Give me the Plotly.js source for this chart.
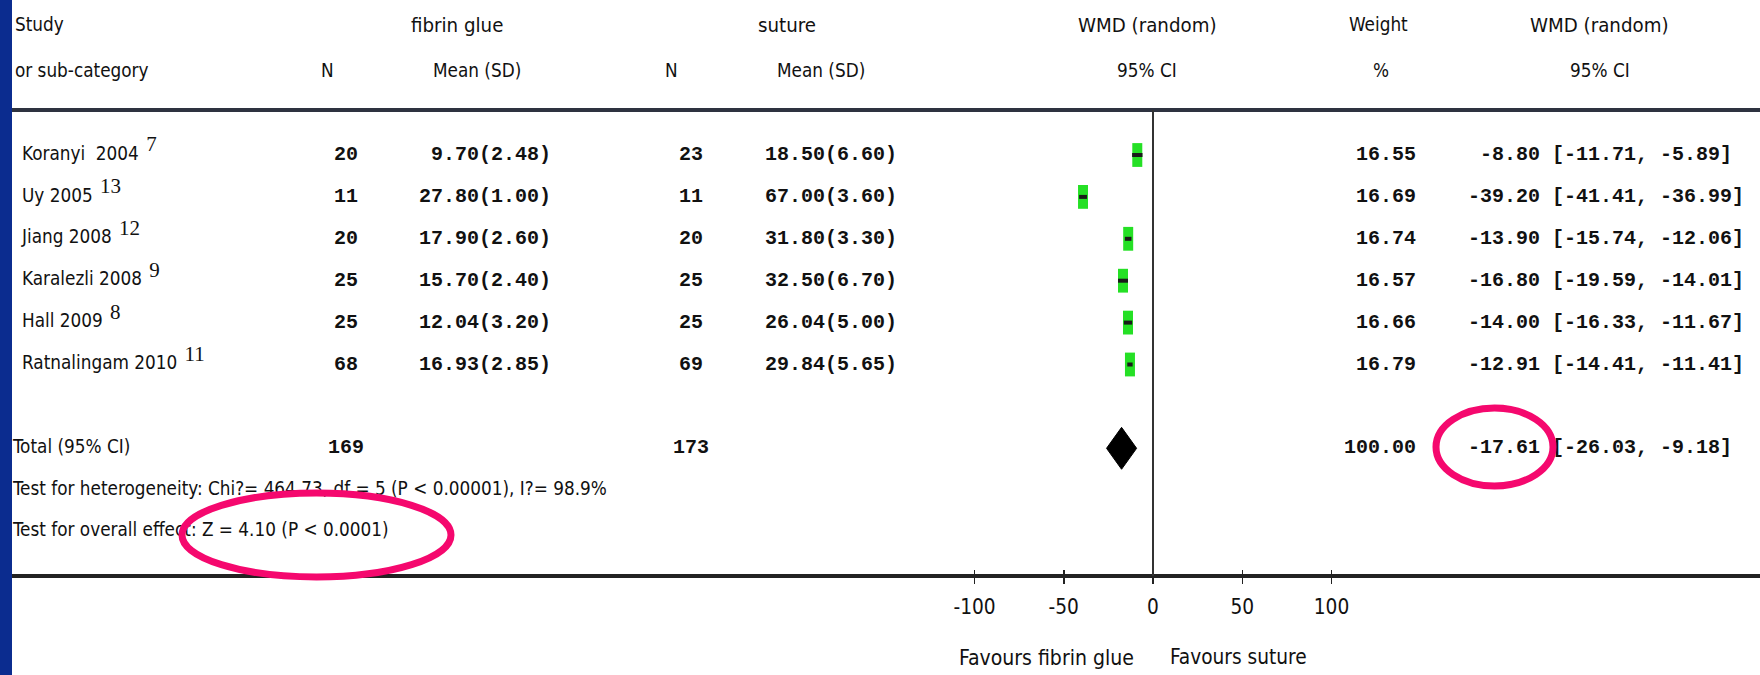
<!DOCTYPE html>
<html>
<head>
<meta charset="utf-8">
<script src="https://cdn.plot.ly/plotly-3.0.1.min.js"></script>
<style>html,body{margin:0;padding:0;background:#fff;}#chart{width:1760px;height:675px;}</style>
</head>
<body>
<div id="chart"></div>
<script>
// ---------------- DATA ----------------
const studies   = ["Koranyi\u00A0\u00A02004", "Uy 2005", "Jiang 2008", "Karalezli 2008", "Hall 2009", "Ratnalingam 2010"];
const refs      = ["7", "13", "12", "9", "8", "11"];
const nGlue     = [20, 11, 20, 25, 25, 68];
const meanGlue  = [9.70, 27.80, 17.90, 15.70, 12.04, 16.93];
const sdGlue    = [2.48, 1.00, 2.60, 2.40, 3.20, 2.85];
const nSuture   = [23, 11, 20, 25, 25, 69];
const meanSuture= [18.50, 67.00, 31.80, 32.50, 26.04, 29.84];
const sdSuture  = [6.60, 3.60, 3.30, 6.70, 5.00, 5.65];
const weights   = [16.55, 16.69, 16.74, 16.57, 16.66, 16.79];
const wmd       = [-8.80, -39.20, -13.90, -16.80, -14.00, -12.91];
const ciLow     = [-11.71, -41.41, -15.74, -19.59, -16.33, -14.41];
const ciHigh    = [-5.89, -36.99, -12.06, -14.01, -11.67, -11.41];
const totalNGlue = 169, totalNSuture = 173, totalWeight = 100.00;
const totalWmd = -17.61, totalLow = -26.03, totalHigh = -9.18;
const heterogeneityText = "Test for heterogeneity: Chi?= 464.73, df = 5 (P &lt; 0.00001), I?= 98.9%";
const overallText = "Test for overall effect: Z = 4.10 (P &lt; 0.0001)";
const axisTicks = [-100, -50, 0, 50, 100];
const favoursLeft = "Favours fibrin glue", favoursRight = "Favours suture";

// ---------------- FONT FITTING ----------------
const ctx = document.createElement("canvas").getContext("2d");
function measure(font, txt, size) { ctx.font = (size || 100) + "px " + font; return ctx.measureText(txt).width; }
function available(name) {
  const s = "Favours fibrin glue 0123";
  return measure("'" + name + "', monospace", s) !== measure("monospace", s) ||
         measure("'" + name + "', serif", s) !== measure("serif", s);
}
const sansCandidates = ["Liberation Sans Narrow", "DejaVu Sans Condensed", "Liberation Sans"];
const SANS_NAME = sansCandidates.find(available) || "Liberation Sans";
const NARROW = "'" + SANS_NAME + "', sans-serif";
// "Test for overall effect: ..." is ~376px wide in the reference
const SANS = Math.min(24, 376 / (measure(NARROW, "Test for overall effect: Z = 4.10 (P < 0.0001)") / 100));
const MONO = "'Liberation Mono', 'DejaVu Sans Mono', monospace";
const MONO_SIZE = 20;
const SERIF = "'Liberation Serif', 'DejaVu Serif', serif";
const SUP_SIZE = 21;

// ---------------- LAYOUT GEOMETRY ----------------
const W = 1760, H = 675;
const ROW0 = 155, ROWH = 41.9;            // row r centre at pixel ROW0 + ROWH*r
const ZERO_PX = 1153, PX_PER_UNIT = 1.785; // forest-plot x scale
const rowsStudy = studies.map((_, i) => i);
const ROW_TOTAL = 7, ROW_HET = 8, ROW_OVERALL = 8.97;
const SUP_RAISE = 0.22;                   // superscript lift, in rows
const px = v => v / W;
const py = v => 1 - v / H;
const NB = "\u00A0";
const pad = (s, n) => { s = String(s); while (s.length < n) s = NB + s; return s; };
const f2 = v => v.toFixed(2);
const msd = (m, s) => f2(m) + "(" + f2(s) + ")";
const effStr = (e, lo, hi) => pad(f2(e), 6) + NB + "[" + pad(f2(lo), 6) + "," + NB + f2(hi) + "]";

const COL = {name: 22, label: 13, nGlue: 346, mGlue: 551, nSut: 691, mSut: 897, weight: 1416, eff: 1468};

function textTrace(xaxisPos, ys, texts, position, family, size, weight) {
  const xs = Array.isArray(xaxisPos) ? xaxisPos : ys.map(() => xaxisPos);
  return {
    type: "scatter", mode: "text", xaxis: "x2", yaxis: "y",
    x: xs, y: ys, text: texts, textposition: position,
    textfont: {family: family, size: size, color: "#111", weight: weight || "normal"},
    cliponaxis: false, hoverinfo: "skip", showlegend: false
  };
}

// reference-number positions follow each study name's rendered width
const refX = studies.map(s => COL.name + measure(NARROW, s + " ", SANS) + 2);
const refY = rowsStudy.map(r => r - SUP_RAISE);

const allRowsN = rowsStudy.concat([ROW_TOTAL]);

const traces = [
  {
    type: "scatter", mode: "markers", x: wmd, y: rowsStudy,
    marker: {symbol: "line-ns", size: 17, color: "#25e025", line: {width: 10, color: "#25e025"}},
    hoverinfo: "skip", showlegend: false
  },
  {
    type: "scatter", mode: "lines",
    x: [].concat(...ciLow.map((lo, i) => [lo, ciHigh[i], null])),
    y: [].concat(...rowsStudy.map(r => [r, r, null])),
    line: {color: "#1a1a1a", width: 4}, hoverinfo: "skip", showlegend: false
  },
  {
    type: "scatter", mode: "lines", fill: "toself", fillcolor: "#000",
    x: [totalLow, totalWmd, totalHigh, totalWmd, totalLow],
    y: [ROW_TOTAL, ROW_TOTAL - 0.5, ROW_TOTAL, ROW_TOTAL + 0.5, ROW_TOTAL],
    line: {color: "#000", width: 1}, hoverinfo: "skip", showlegend: false
  },
  textTrace(COL.name, rowsStudy, studies, "middle right", NARROW, SANS),
  textTrace(refX, refY, refs, "middle right", SERIF, SUP_SIZE),
  textTrace(COL.label, [ROW_TOTAL, ROW_HET, ROW_OVERALL], ["Total (95% CI)", heterogeneityText, overallText], "middle right", NARROW, SANS),
  textTrace(COL.nGlue, allRowsN, nGlue.concat([totalNGlue]).map(String), "middle center", MONO, MONO_SIZE, "bold"),
  textTrace(COL.mGlue, rowsStudy, meanGlue.map((m, i) => msd(m, sdGlue[i])), "middle left", MONO, MONO_SIZE, "bold"),
  textTrace(COL.nSut, allRowsN, nSuture.concat([totalNSuture]).map(String), "middle center", MONO, MONO_SIZE, "bold"),
  textTrace(COL.mSut, rowsStudy, meanSuture.map((m, i) => msd(m, sdSuture[i])), "middle left", MONO, MONO_SIZE, "bold"),
  textTrace(COL.weight, allRowsN, weights.concat([totalWeight]).map(f2), "middle left", MONO, MONO_SIZE, "bold"),
  textTrace(COL.eff, allRowsN,
    wmd.map((e, i) => effStr(e, ciLow[i], ciHigh[i])).concat([effStr(totalWmd, totalLow, totalHigh)]),
    "middle right", MONO, MONO_SIZE, "bold")
];

function hdr(text, xc, yc, anchor, scale) {
  return {text: text, xref: "paper", yref: "paper", x: px(xc), y: py(yc),
    xanchor: anchor || "center", yanchor: "middle", showarrow: false,
    font: {family: NARROW, size: SANS * (scale || 1), color: "#111"}};
}

const annotations = [
  hdr("Study", 13, 25, "left"),
  hdr("or sub-category", 13, 70, "left"),
  hdr("fibrin glue", 457, 25, "center", 1.08),
  hdr("N", 327, 70),
  hdr("Mean (SD)", 477, 70),
  hdr("suture", 787, 25, "center", 1.08),
  hdr("N", 671, 70),
  hdr("Mean (SD)", 821, 70),
  hdr("WMD (random)", 1147, 25, "center", 1.08),
  hdr("95% CI", 1147, 70),
  hdr("Weight", 1378, 25),
  hdr("%", 1381, 70),
  hdr("WMD (random)", 1599, 25, "center", 1.08),
  hdr("95% CI", 1600, 70),
  hdr(favoursLeft, 1136, 657, "right", 1.12),
  hdr(favoursRight, 1168, 657, "left", 1.1)
];

const shapes = [
  {type: "rect", xref: "paper", yref: "paper", x0: 0, x1: px(12), y0: 0, y1: 1,
   fillcolor: "#0b2c8f", line: {width: 0}, layer: "below"},
  {type: "line", xref: "paper", yref: "paper", x0: px(12), x1: 1, y0: py(110), y1: py(110),
   line: {color: "#2e3340", width: 4}},
  {type: "line", xref: "paper", yref: "paper", x0: px(12), x1: 1, y0: py(576), y1: py(576),
   line: {color: "#222", width: 4}},
  {type: "line", xref: "x", yref: "paper", x0: 0, x1: 0, y0: py(576), y1: py(110),
   line: {color: "#333", width: 2}},
  {type: "circle", xref: "paper", yref: "paper", x0: px(182), x1: px(451), y0: py(493), y1: py(577),
   line: {color: "#f5086e", width: 7}, layer: "above"},
  {type: "circle", xref: "paper", yref: "paper", x0: px(1436), x1: px(1553), y0: py(408), y1: py(486),
   line: {color: "#f5086e", width: 7}, layer: "above"}
];

const layout = {
  width: W, height: H,
  margin: {l: 0, r: 0, t: 0, b: 0, pad: 0},
  paper_bgcolor: "#fff", plot_bgcolor: "#fff",
  showlegend: false,
  font: {family: NARROW, size: SANS, color: "#111"},
  xaxis: {
    domain: [0, 1], range: [-ZERO_PX / PX_PER_UNIT, (W - ZERO_PX) / PX_PER_UNIT],
    anchor: "free", position: py(569),
    tickmode: "array", tickvals: axisTicks, ticktext: axisTicks.map(String),
    ticks: "outside", ticklen: 14, tickwidth: 1.5, tickcolor: "#222",
    ticklabelstandoff: 5,
    showline: false, showgrid: false, zeroline: false,
    tickfont: {family: NARROW, size: SANS * 1.1, color: "#111"}, fixedrange: true
  },
  xaxis2: {domain: [0, 1], range: [0, W], overlaying: "x", anchor: "y", visible: false, fixedrange: true},
  yaxis: {domain: [0, 1], range: [(H - ROW0) / ROWH, -ROW0 / ROWH], visible: false, fixedrange: true},
  shapes: shapes,
  annotations: annotations
};

Plotly.newPlot("chart", traces, layout, {displayModeBar: false, staticPlot: true});
</script>
</body>
</html>
